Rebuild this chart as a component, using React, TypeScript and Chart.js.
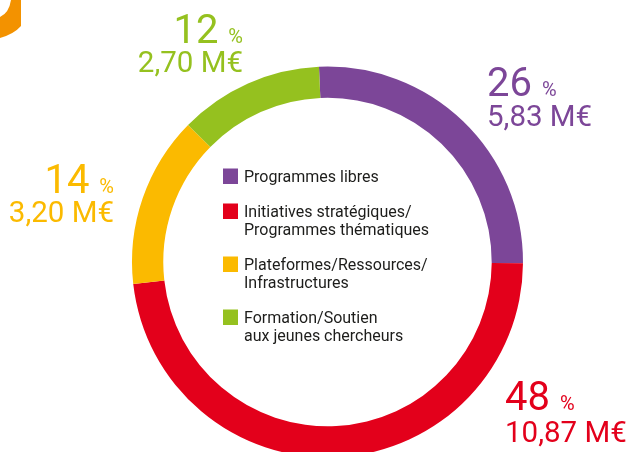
import React, { useEffect, useRef } from "react";
import { Chart, registerables } from "chart.js";

Chart.register(...registerables);

// ---- data ----
const categories = [
  "Programmes libres",
  "Initiatives stratégiques/ Programmes thématiques",
  "Plateformes/Ressources/ Infrastructures",
  "Formation/Soutien aux jeunes chercheurs",
];
const legendLines = [
  ["Programmes libres"],
  ["Initiatives stratégiques/", "Programmes thématiques"],
  ["Plateformes/Ressources/", "Infrastructures"],
  ["Formation/Soutien", "aux jeunes chercheurs"],
];
const amounts = [5.83, 10.87, 3.2, 2.7];
const percents = [26, 48, 14, 12];
const amountLabels = ["5,83 M€", "10,87 M€", "3,20 M€", "2,70 M€"];
const colors = ["#7C4698", "#E3001B", "#FBBA00", "#95C11F"];

// ---- layout (positions only) ----
const labelLayout = [
  { x: 487, base: 96, money: 126, align: "left" },
  { x: 505, base: 410, money: 442, align: "left" },
  { x: 114, base: 193, money: 222, align: "right" },
  { x: 243, base: 43, money: 72, align: "right" },
];
const FONT = "Roboto, 'Noto Sans', sans-serif";

const decorPlugin = {
  id: "decor",
  beforeDraw(chart: any) {
    const ctx = chart.ctx;
    ctx.save();
    ctx.fillStyle = "#F39200";
    ctx.beginPath();
    ctx.moveTo(11, 0);
    ctx.lineTo(21, 0);
    ctx.lineTo(21, 26);
    ctx.quadraticCurveTo(14, 34, 0, 38);
    ctx.lineTo(0, 17);
    ctx.quadraticCurveTo(9, 13, 11, 0);
    ctx.closePath();
    ctx.fill();
    ctx.restore();
  },
};

const labelPlugin = {
  id: "sliceLabels",
  afterDraw(chart: any) {
    const ctx = chart.ctx;
    ctx.save();
    ctx.textBaseline = "alphabetic";
    percents.forEach((p, i) => {
      const L = labelLayout[i];
      ctx.fillStyle = colors[i];
      const big = `400 40px ${FONT}`;
      const small = `400 20px ${FONT}`;
      const money = `400 29.5px ${FONT}`;
      const num = String(p);
      ctx.font = big;
      const numW = ctx.measureText(num).width;
      const spaceW = ctx.measureText(" ").width;
      ctx.font = small;
      const pctW = ctx.measureText("%").width;
      if (L.align === "left") {
        ctx.textAlign = "left";
        ctx.font = big;
        ctx.fillText(num, L.x, L.base);
        ctx.font = small;
        ctx.fillText("%", L.x + numW + spaceW, L.base);
        ctx.font = money;
        ctx.fillText(amountLabels[i], L.x, L.money);
      } else {
        ctx.textAlign = "right";
        ctx.font = small;
        ctx.fillText("%", L.x, L.base);
        ctx.font = big;
        ctx.fillText(num, L.x - pctW - spaceW, L.base);
        ctx.font = money;
        ctx.fillText(amountLabels[i], L.x, L.money);
      }
    });

    // legend in the hole
    const sqX = 223;
    const txtX = 244;
    const lineH = 18;
    let baseline = 181.5;
    ctx.textAlign = "left";
    ctx.font = `16px ${FONT}`;
    legendLines.forEach((lines, i) => {
      ctx.fillStyle = colors[i];
      ctx.fillRect(sqX, baseline - 13, 15, 15.5);
      ctx.fillStyle = "#1d1d1b";
      lines.forEach((ln, j) => ctx.fillText(ln, txtX, baseline + j * lineH));
      baseline += lines.length * lineH + 17;
    });
    ctx.restore();
  },
};

export default function App() {
  const ref = useRef<HTMLCanvasElement>(null);
  useEffect(() => {
    if (!ref.current) return;
    const chart = new Chart(ref.current, {
      type: "doughnut",
      data: {
        labels: categories,
        datasets: [
          {
            data: amounts,
            backgroundColor: colors,
            borderWidth: 0,
            hoverOffset: 0,
          },
        ],
      },
      options: {
        responsive: false,
        maintainAspectRatio: false,
        animation: false,
        cutout: "84%",
        rotation: -2.5,
        layout: { padding: { left: 132, right: 104, top: 66.5, bottom: 12.5 } },
        plugins: {
          legend: { display: false },
          tooltip: { enabled: false },
        },
      },
      plugins: [decorPlugin, labelPlugin],
    } as any);
    return () => chart.destroy();
  }, []);
  return (
    <div
      style={{
        position: "fixed",
        left: 0,
        top: 0,
        width: 627,
        height: 452,
        overflow: "hidden",
        background: "#fff",
      }}
    >
      <canvas ref={ref} width={627} height={470} style={{ display: "block" }} />
    </div>
  );
}
